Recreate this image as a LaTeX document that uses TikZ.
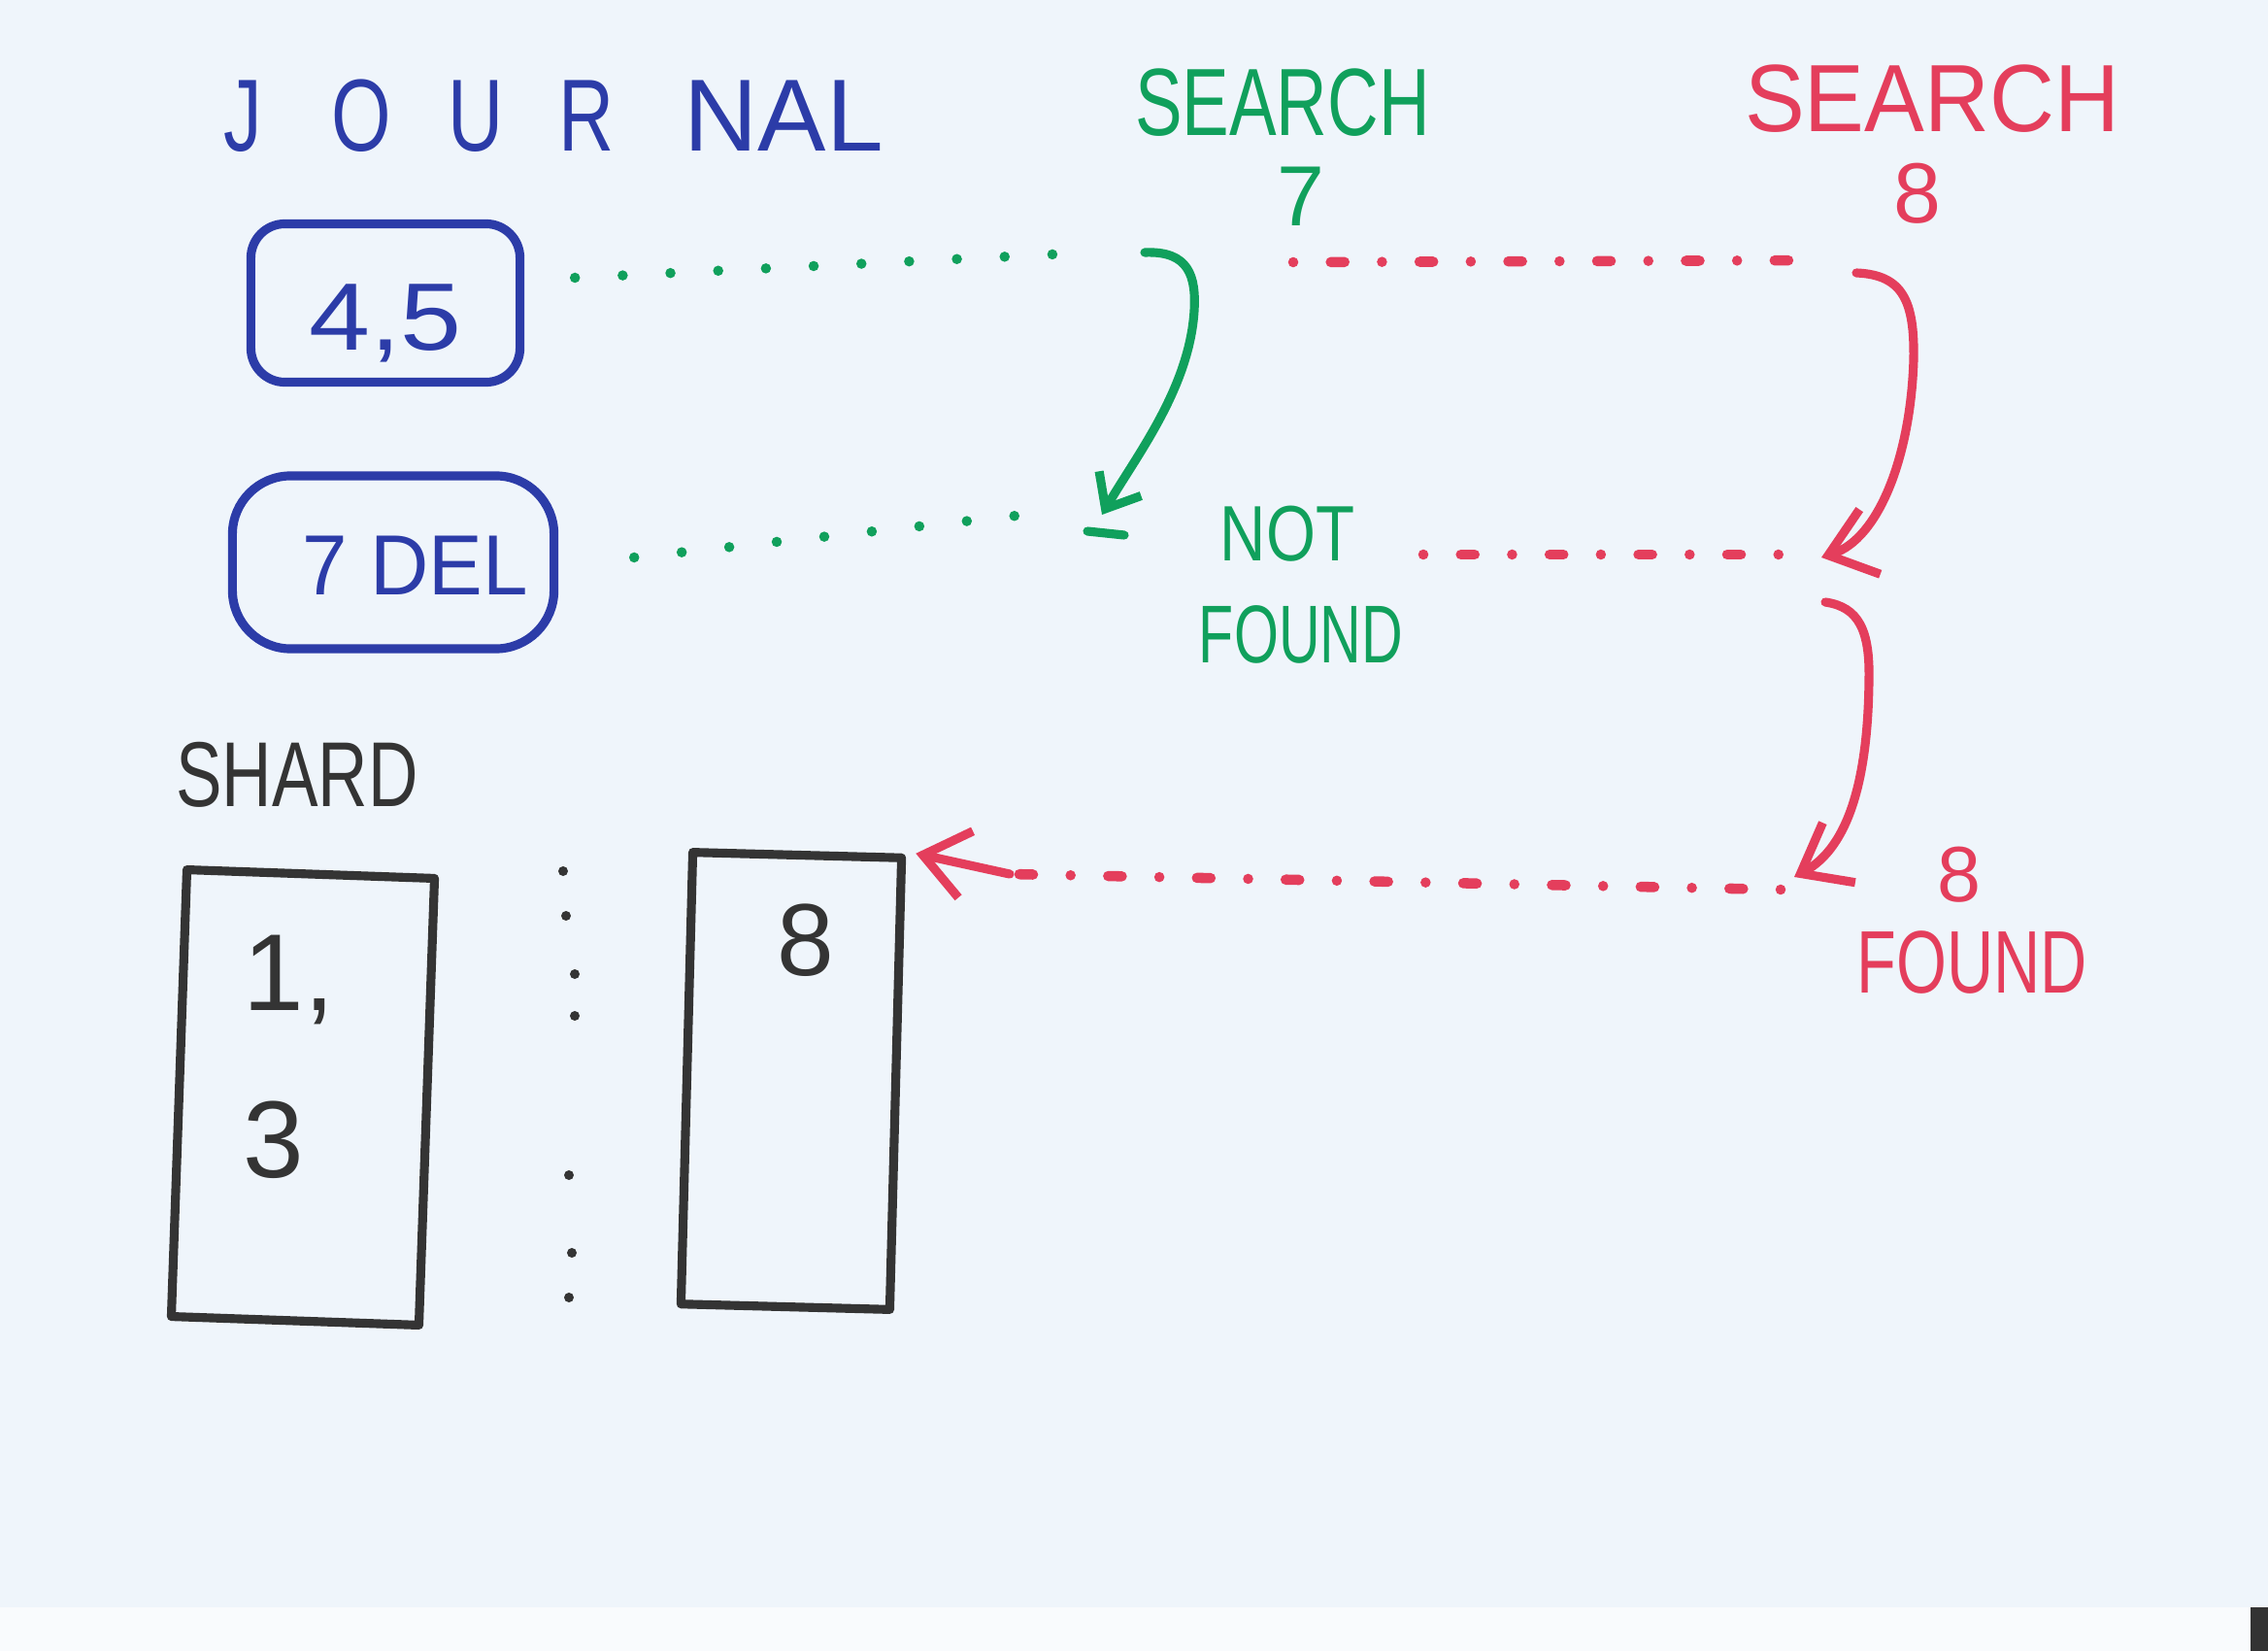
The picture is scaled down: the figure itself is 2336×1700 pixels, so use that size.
\documentclass[tikz,border=0pt]{standalone}
\usepackage{fontspec}
\setmainfont{Liberation Sans}
\usepackage{graphicx}
\usetikzlibrary{arrows.meta}
\definecolor{paper}{RGB}{239,245,251}
\definecolor{jblue}{RGB}{44,60,168}
\definecolor{sgreen}{RGB}{16,160,92}
\definecolor{sred}{RGB}{228,62,92}
\definecolor{ink}{RGB}{52,52,52}
\newcommand{\hw}[2][0.75]{\scalebox{#1}[1]{#2}}
\newcommand{\fsz}[1]{\fontsize{#1}{#1}\selectfont}
\tikzset{
  hand/.style={line width=2.6pt, line cap=round, line join=round},
  txt/.style={inner sep=0pt, anchor=base},
  jbox/.style={draw=jblue, hand, rectangle, rounded corners=0.35cm, text=jblue, inner sep=0pt},
  sbox/.style={draw=ink, hand, rectangle, inner sep=0pt},
  gdots/.style={draw=sgreen, line width=3pt, line cap=round, dash pattern=on 0pt off 14pt},
  rdots/.style={draw=sred, line width=3pt, line cap=round, dash pattern=on 0pt off 11pt on 4pt off 11pt},
  garrow/.style={draw=sgreen, hand, -{Straight Barb[length=0.3cm,width=0.5cm]}},
  rarrow/.style={draw=sred, hand, -{Straight Barb[length=0.45cm,width=0.7cm]}},
}
\begin{document}
\begin{tikzpicture}[x=0.01cm,y=-0.01cm]
\fill[paper] (0,0) rectangle (2336,1700);
\fill[white!60!paper] (0,1655) rectangle (2336,1700);
\fill[black!80] (2318,1655) rectangle (2336,1700);
\useasboundingbox (0,0) rectangle (2336,1700);

% titles
\node[txt, text=jblue, font=\fsz{30}] (jtitle) at (570,156)
  {\hw{J}\hspace{0.72cm}\hw{O}\hspace{0.58cm}\hw{U}\hspace{0.57cm}\hw{R}\hspace{0.72cm}NAL};
\node[txt, text=sgreen, font=\fsz{28}] (s7t) at (1321,140) {\hw[0.74]{SEARCH}};
\node[txt, text=sgreen, font=\fsz{25}] (s7n) at (1340,232) {7};
\node[txt, text=sred, font=\fsz{28}] (s8t) at (1990,136) {\hw[0.94]{SEARCH}};
\node[txt, text=sred, font=\fsz{25}] (s8n) at (1975,230) {8};

% journal entries
\node[jbox, minimum width=2.77cm, minimum height=1.63cm, text height=1.0cm, text depth=0.04cm, font=\fsz{28}] (ja) at (397,312) {\hw[1.15]{4,5}};
\node[jbox, minimum width=3.31cm, minimum height=1.78cm, rounded corners=0.6cm, text height=0.7cm, text depth=0.04cm, font=\fsz{25}] (jb) at (405,579) {\hspace{0.45cm}\hw[0.95]{7 DEL}};

% labels
\node[txt, text=sgreen, font=\fsz{23}] (nf1) at (1326,577) {\hw[0.81]{NOT}};
\node[txt, text=sgreen, font=\fsz{24}] (nf2) at (1340,682) {\hw[0.7]{FOUND}};
\node[txt, text=sred, font=\fsz{23}] (f8n) at (2018,928) {8};
\node[txt, text=sred, font=\fsz{26}] (f8t) at (2031,1022) {\hw[0.73]{FOUND}};

% shards
\node[txt, text=ink, font=\fsz{27}] (shard) at (306,830) {\hw{SHARD}};
\node[sbox, minimum width=2.55cm, minimum height=4.6cm, rotate=-2] (s1) at (312,1130) {};
\node[sbox, minimum width=2.15cm, minimum height=4.65cm, rotate=-1.5] (s2) at (815,1113) {};
\node[inner sep=0pt, anchor=north west, align=left, text=ink, font=\fontsize{32}{49}\selectfont] (c1) at (250,962) {1,\\3};
\node[txt, text=ink, font=\fsz{30}] (c2) at (830,1004) {8};
\foreach \p in {(580,897),(583,943),(592,1003),(592,1046),(586,1210),(589,1290),(586,1336)}
  \fill[ink] \p circle[radius=0.05cm];

% green search 7
\coordinate (g1e) at (1103,261);
\coordinate (g2e) at (1065,529);
\coordinate (ga) at (1179,260);
\coordinate (gb) at (1135,530);
\draw[gdots] ([shift={(0.52cm,0.26cm)}]ja.east) -- (g1e);
\draw[gdots] ([shift={(0.78cm,0.05cm)}]jb.east) -- (g2e);
\draw[garrow] (ga) .. controls (1225,258) and (1232,285) .. (1230,320)
  .. controls (1225,400) and (1170,470) .. (gb);
\draw[draw=sgreen, hand] (1120,547) -- (1158,551);

% red search 8
\coordinate (r1s) at (1332,270);
\coordinate (r1e) at (1880,268);
\coordinate (ra) at (1912,281);
\coordinate (rb) at (1876,574);
\coordinate (r2s) at (1466,571);
\coordinate (r2e) at (1837,571);
\coordinate (rc) at (1880,620);
\coordinate (rd) at (1848,903);
\coordinate (r3s) at (1834,916);
\coordinate (r3m) at (1040,900);
\draw[rdots] (r1s) -- (r1e);
\draw[rarrow] (ra) .. controls (1960,283) and (1972,310) .. (1971,370)
  .. controls (1968,470) and (1935,555) .. (rb);
\draw[rdots] (r2s) -- (r2e);
\draw[rarrow] (rc) .. controls (1915,625) and (1926,650) .. (1925,700)
  .. controls (1924,800) and (1905,872) .. (rd);
\draw[rdots] (r3s) -- (r3m);
\draw[rarrow] (r3m) -- ([xshift=0.1cm]s2.north east);
\end{tikzpicture}
\end{document}
